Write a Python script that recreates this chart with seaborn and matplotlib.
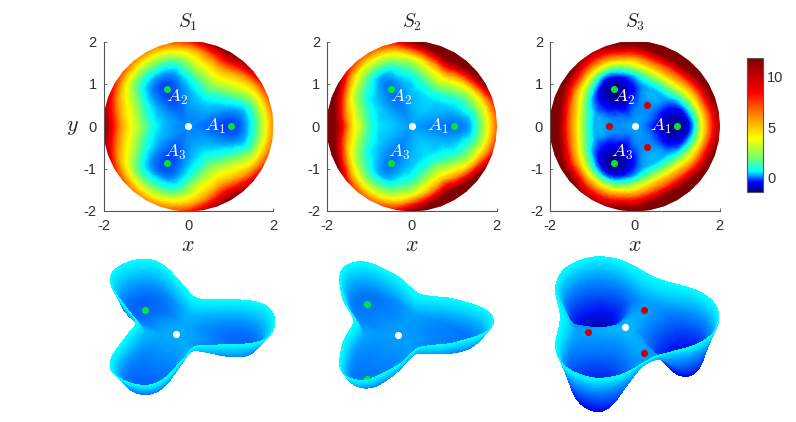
# Three potential surfaces S1, S2, S3: maps on top, 3D views below
import numpy as np
import seaborn as sns
import matplotlib
matplotlib.use('Agg')
import matplotlib.pyplot as plt
import matplotlib.tri as mtri
from matplotlib.colors import LinearSegmentedColormap, Normalize
from matplotlib.cm import ScalarMappable

# Field values. Rows are angles 0,10,...,60 deg from A1,
# columns are radii 0.2,0.4,...,2.0. The other sectors mirror these.
radii = [0.2, 0.4, 0.6, 0.8, 1.0, 1.2, 1.4, 1.6, 1.8, 2.0]
s1_center = 0.15
s1_sector = [
    [0.05, 0.0, -0.1, -0.2, -0.25, -0.1, 0.35, 1.5, 3.5, 6.0],
    [0.05, 0.0, -0.05, -0.1, -0.1, 0.0, 0.4, 1.55, 3.6, 6.2],
    [0.1, 0.08, 0.05, 0.08, 0.12, 0.3, 0.75, 2.0, 4.1, 6.9],
    [0.12, 0.15, 0.18, 0.25, 0.45, 0.9, 2.0, 3.2, 5.0, 7.9],
    [0.12, 0.18, 0.28, 0.42, 0.85, 1.8, 3.1, 4.4, 6.3, 9.6],
    [0.1, 0.2, 0.33, 0.6, 1.3, 2.5, 3.8, 5.3, 7.8, 11.0],
    [0.1, 0.2, 0.35, 0.75, 1.7, 2.9, 4.2, 6.0, 8.8, 12.0],
]
s2_center = 0.2
s2_sector = [
    [0.15, 0.1, 0.05, 0.0, -0.02, 0.08, 0.4, 1.8, 3.9, 6.8],
    [0.17, 0.13, 0.1, 0.1, 0.13, 0.25, 0.62, 2.0, 4.1, 7.1],
    [0.2, 0.18, 0.2, 0.22, 0.3, 0.55, 1.3, 2.8, 5.0, 8.5],
    [0.2, 0.25, 0.28, 0.35, 0.45, 0.85, 1.9, 3.6, 7.0, 11.5],
    [0.22, 0.3, 0.35, 0.4, 0.8, 1.6, 3.0, 5.0, 9.0, 13.5],
    [0.25, 0.33, 0.4, 0.5, 1.0, 2.3, 4.0, 6.6, 10.8, 15.0],
    [0.25, 0.35, 0.42, 0.55, 1.3, 2.9, 4.5, 8.0, 12.0, 16.0],
]
s3_center = 0.25
s3_sector = [
    [0.1, -0.3, -0.85, -1.25, -1.35, -0.9, 0.6, 4.0, 7.5, 10.5],
    [0.1, -0.2, -0.65, -1.05, -1.15, -0.65, 1.0, 4.3, 7.8, 11.0],
    [0.12, -0.05, -0.35, -0.7, -0.7, -0.1, 1.9, 5.2, 8.8, 12.5],
    [0.14, 0.05, -0.2, -0.35, -0.2, 0.6, 3.0, 5.8, 9.3, 13.0],
    [0.15, 0.1, 0.05, 0.1, 0.25, 1.4, 4.0, 6.8, 10.5, 14.5],
    [0.17, 0.13, 0.15, 0.28, 0.42, 2.0, 4.7, 7.5, 11.6, 15.5],
    [0.2, 0.13, 0.15, 0.3, 0.45, 2.1, 4.9, 7.6, 12.0, 16.0],
]

# 3D views: rim radius per angle and height per fraction of the rim radius,
# read off the lower pictures (same angle steps as above)
fractions = [0.0, 0.2, 0.4, 0.6, 0.8, 0.9, 1.0]
s1_rim = [1.6, 1.57, 1.38, 1.05, 0.83, 0.7, 0.65]
s1_height = [
    [-0.08, -0.25, -0.4, -0.35, 0.0, 0.37],
    [-0.08, -0.25, -0.38, -0.3, 0.03, 0.37],
    [-0.06, -0.2, -0.28, -0.18, 0.1, 0.37],
    [-0.05, -0.12, -0.15, -0.05, 0.17, 0.37],
    [-0.03, -0.07, -0.06, 0.02, 0.22, 0.37],
    [-0.02, -0.03, -0.01, 0.06, 0.24, 0.37],
    [-0.01, -0.02, 0.0, 0.07, 0.25, 0.37],
]
s2_rim = [1.55, 1.45, 1.22, 1.03, 0.87, 0.76, 0.72]
s2_height = [
    [-0.04, -0.13, -0.2, -0.18, 0.06, 0.44],
    [-0.04, -0.13, -0.19, -0.16, 0.1, 0.44],
    [-0.03, -0.11, -0.15, -0.1, 0.16, 0.44],
    [-0.02, -0.07, -0.09, -0.02, 0.23, 0.44],
    [-0.01, -0.04, -0.04, 0.04, 0.28, 0.44],
    [-0.01, -0.02, -0.01, 0.07, 0.31, 0.44],
    [0.0, -0.01, 0.0, 0.08, 0.33, 0.44],
]
s3_rim = [1.52, 1.5, 1.42, 1.3, 1.17, 1.08, 1.05]
s3_height = [
    [-0.3, -0.95, -1.38, -1.1, -0.4, 0.3],
    [-0.28, -0.85, -1.3, -1.05, -0.35, 0.3],
    [-0.22, -0.65, -1.0, -0.85, -0.25, 0.3],
    [-0.15, -0.4, -0.6, -0.5, -0.05, 0.3],
    [-0.1, -0.22, -0.3, -0.25, 0.1, 0.3],
    [-0.08, -0.14, -0.2, -0.12, 0.14, 0.3],
    [-0.07, -0.12, -0.15, -0.1, 0.16, 0.3],
]
surf_limits = [(-1.45, 0.37), (-1.35, 0.44), (-1.6, 0.3)]

titles = ['$S_1$', '$S_2$', '$S_3$']
well_x = [1.0, -0.5, -0.5]
well_y = [0.0, 0.87, -0.87]
saddle_x = [0.3, -0.6, 0.3]
saddle_y = [0.5, 0.0, -0.5]
label_names = ['$A_1$', '$A_2$', '$A_3$']
label_x = [0.62, -0.26, -0.31]
label_y = [0.0, 0.69, -0.62]
ticks = [-2, 0, 2]
map_ticks_y = [-2, -1, 0, 1, 2]
bar_ticks = [0, 5, 10]

# colour stops
stop_values = [-1.45, -0.5, 0.6, 2.1, 3.9, 6.0, 8.4, 11.85]
stop_colors = ['#000080', '#0000ff', '#00ffff', '#80ff60', '#ffff00', '#ff9000', '#ff0000', '#800000']
surf_stops = [0.0, 0.3, 0.72, 1.0]
surf_colors = ['#000070', '#0010f0', '#0090ff', '#00ffff']

view_centers = [(176, 334), (398, 335), (625, 327)]
map_lefts = [103.5, 327, 550]
z_scale = 32  # px per height unit

W, H = 796, 422
sns.set_theme(style='ticks')
plt.rcParams['font.family'] = ['Liberation Sans', 'DejaVu Sans']
plt.rcParams['mathtext.fontset'] = 'cm'
plt.rcParams['axes.unicode_minus'] = False
plt.rcParams['axes.edgecolor'] = '#555555'
plt.rcParams['axes.linewidth'] = 0.8
plt.rcParams['xtick.color'] = '#555555'
plt.rcParams['ytick.color'] = '#555555'
plt.rcParams['xtick.labelcolor'] = '#303030'
plt.rcParams['ytick.labelcolor'] = '#303030'


def mirror_sector(rows):
    rows = np.array(rows)
    ring = np.vstack([rows, rows[-2:0:-1]])
    return np.vstack([ring, ring, ring])


def build_field(center, sector):
    full = mirror_sector(sector)
    angles = np.deg2rad(np.arange(0, 360, 10))
    rr, aa = np.meshgrid(radii, angles)
    x = np.r_[0.0, (rr * np.cos(aa)).ravel()]
    y = np.r_[0.0, (rr * np.sin(aa)).ravel()]
    z = np.r_[center, full.ravel()]
    tri = mtri.Triangulation(x, y)
    interp = mtri.CubicTriInterpolator(tri, z, kind='geom')
    return mtri.UniformTriRefiner(tri).refine_field(z, interp, subdiv=3)


def build_view(rim, height):
    # table is periodic in angle, so lay three turns side by side for the smoother
    rim_turn = mirror_sector(np.array(rim)[:, None])[:, 0]
    n = 540
    rim_fine = np.fft.irfft(np.fft.rfft(rim_turn), n=n) * n / len(rim_turn)
    table = mirror_sector(height)
    table = np.hstack([np.zeros((len(table), 1)), table])
    table = np.vstack([table, table, table, table[:1]])
    ang = np.arange(len(table)) - 36.0
    gf, ga = np.meshgrid(fractions, ang)
    tri = mtri.Triangulation(ga.ravel(), gf.ravel() * 5)
    interp = mtri.CubicTriInterpolator(tri, table.ravel(), kind='geom')

    def height_at(a_deg, f):
        return np.ma.filled(interp(np.asarray(a_deg) / 10.0, np.asarray(f) * 5), 0.0)

    def rim_at(a_deg):
        return np.interp(a_deg, np.linspace(0, 360, n + 1), np.r_[rim_fine, rim_fine[0]])

    a_fine = np.linspace(0, 360, n + 1)
    f_fine = np.linspace(0, 0.9995, 110)
    ff, af = np.meshgrid(f_fine, a_fine)
    rr = ff * rim_at(af)
    xs = rr * np.cos(np.deg2rad(af))
    ys = rr * np.sin(np.deg2rad(af))
    zs = height_at(af, ff)

    def z_on_surface(px, py):
        a = np.degrees(np.arctan2(py, px)) % 360
        return float(height_at(a, np.hypot(px, py) / rim_at(a)))

    return xs, ys, zs, z_on_surface


map_norm = Normalize(stop_values[0], stop_values[-1])
map_cmap = LinearSegmentedColormap.from_list(
    'field', [((v - stop_values[0]) / (stop_values[-1] - stop_values[0]), c)
              for v, c in zip(stop_values, stop_colors)], N=512)
surf_cmap = LinearSegmentedColormap.from_list('surf', list(zip(surf_stops, surf_colors)), N=512)

fig = plt.figure(figsize=(W / 100, H / 100), dpi=100)
fields = [build_field(s1_center, s1_sector),
          build_field(s2_center, s2_sector),
          build_field(s3_center, s3_sector)]
views = [build_view(s1_rim, s1_height),
         build_view(s2_rim, s2_height),
         build_view(s3_rim, s3_height)]

# top row
for i, (fine_tri, fine_z) in enumerate(fields):
    ax = fig.add_axes([map_lefts[i] / W, 1 - 211 / H, 169.5 / W, 169.5 / H])
    ax.tripcolor(fine_tri, fine_z, shading='gouraud', cmap=map_cmap, norm=map_norm)
    ax.set_xlim(-2, 2)
    ax.set_ylim(-2, 2)
    ax.set_xticks(ticks)
    ax.set_yticks(map_ticks_y)
    ax.tick_params(direction='in', length=2, width=0.6, labelsize=10.5)
    ax.tick_params(axis='x', pad=6)
    ax.tick_params(axis='y', pad=5)
    sns.despine(ax=ax)
    ax.set_title(titles[i], fontsize=14, pad=10)
    ax.set_xlabel('$x$', fontsize=16, labelpad=1)
    if i == 0:
        ax.set_ylabel('$y$', fontsize=16, rotation=0, labelpad=8, va='center')
    if i == 2:
        ax.scatter(saddle_x, saddle_y, s=26, c='#cc0000', linewidths=0, zorder=3)
    ax.scatter(well_x, well_y, s=26, c='#00e632', linewidths=0, zorder=3)
    ax.scatter([0], [0], s=26, c='white', linewidths=0, zorder=3)
    for name, lx, ly in zip(label_names, label_x, label_y):
        ax.text(lx, ly, name, color='white', fontsize=13.5, ha='center', va='center', zorder=4)

# colourbar
cax = fig.add_axes([747 / W, 1 - 192 / H, 16 / W, 134 / H])
bar = fig.colorbar(ScalarMappable(norm=map_norm, cmap=map_cmap), cax=cax)
bar.set_ticks(bar_ticks)
bar.ax.tick_params(direction='in', length=2, width=0.6, labelsize=10.5, pad=3)

# bottom row, orthographic views
side = 240.0
half = 177.5 / z_scale / 2
for i, (xs, ys, zs, z_on_surface) in enumerate(views):
    cx, cy = view_centers[i]
    left = cx - 0.5135 * side
    bottom = H - cy - 0.5135 * side
    ax3 = fig.add_axes([left / W, bottom / H, side / W, side / H], projection='3d',
                       computed_zorder=False)
    ax3.patch.set_alpha(0)
    ax3.set_proj_type('ortho')
    ax3.view_init(elev=44, azim=-90)
    ax3.plot_surface(xs, ys, zs, cmap=surf_cmap, norm=Normalize(*surf_limits[i]),
                     rstride=1, cstride=1, linewidth=0, edgecolor='none',
                     antialiased=False, shade=False, zorder=1)
    ax3.set_xlim(-2, 2)
    ax3.set_ylim(-2, 2)
    ax3.set_zlim(-half, half)
    ax3.set_box_aspect((1, 1, 1), zoom=1.729)
    ax3.set_axis_off()

    ax3.scatter([0], [0], [0], s=26, c='white', linewidths=0, depthshade=False, zorder=3)
    if i < 2:
        ax3.scatter(well_x[1], well_y[1], z_on_surface(well_x[1], well_y[1]), s=26, c='#00e632',
                    linewidths=0, depthshade=False, zorder=3)
    if i == 1:
        ax3.plot([well_x[2]], [well_y[2]], [z_on_surface(well_x[2], well_y[2])], marker='o', ms=5.2,
                 mew=0, color='#00e632', fillstyle='top', zorder=3)
    if i == 2:
        sz = [z_on_surface(a, b) for a, b in zip(saddle_x, saddle_y)]
        ax3.scatter(saddle_x, saddle_y, sz, s=26, c='#cc0000', linewidths=0, depthshade=False, zorder=3)

fig.savefig('out.png', dpi=100)
